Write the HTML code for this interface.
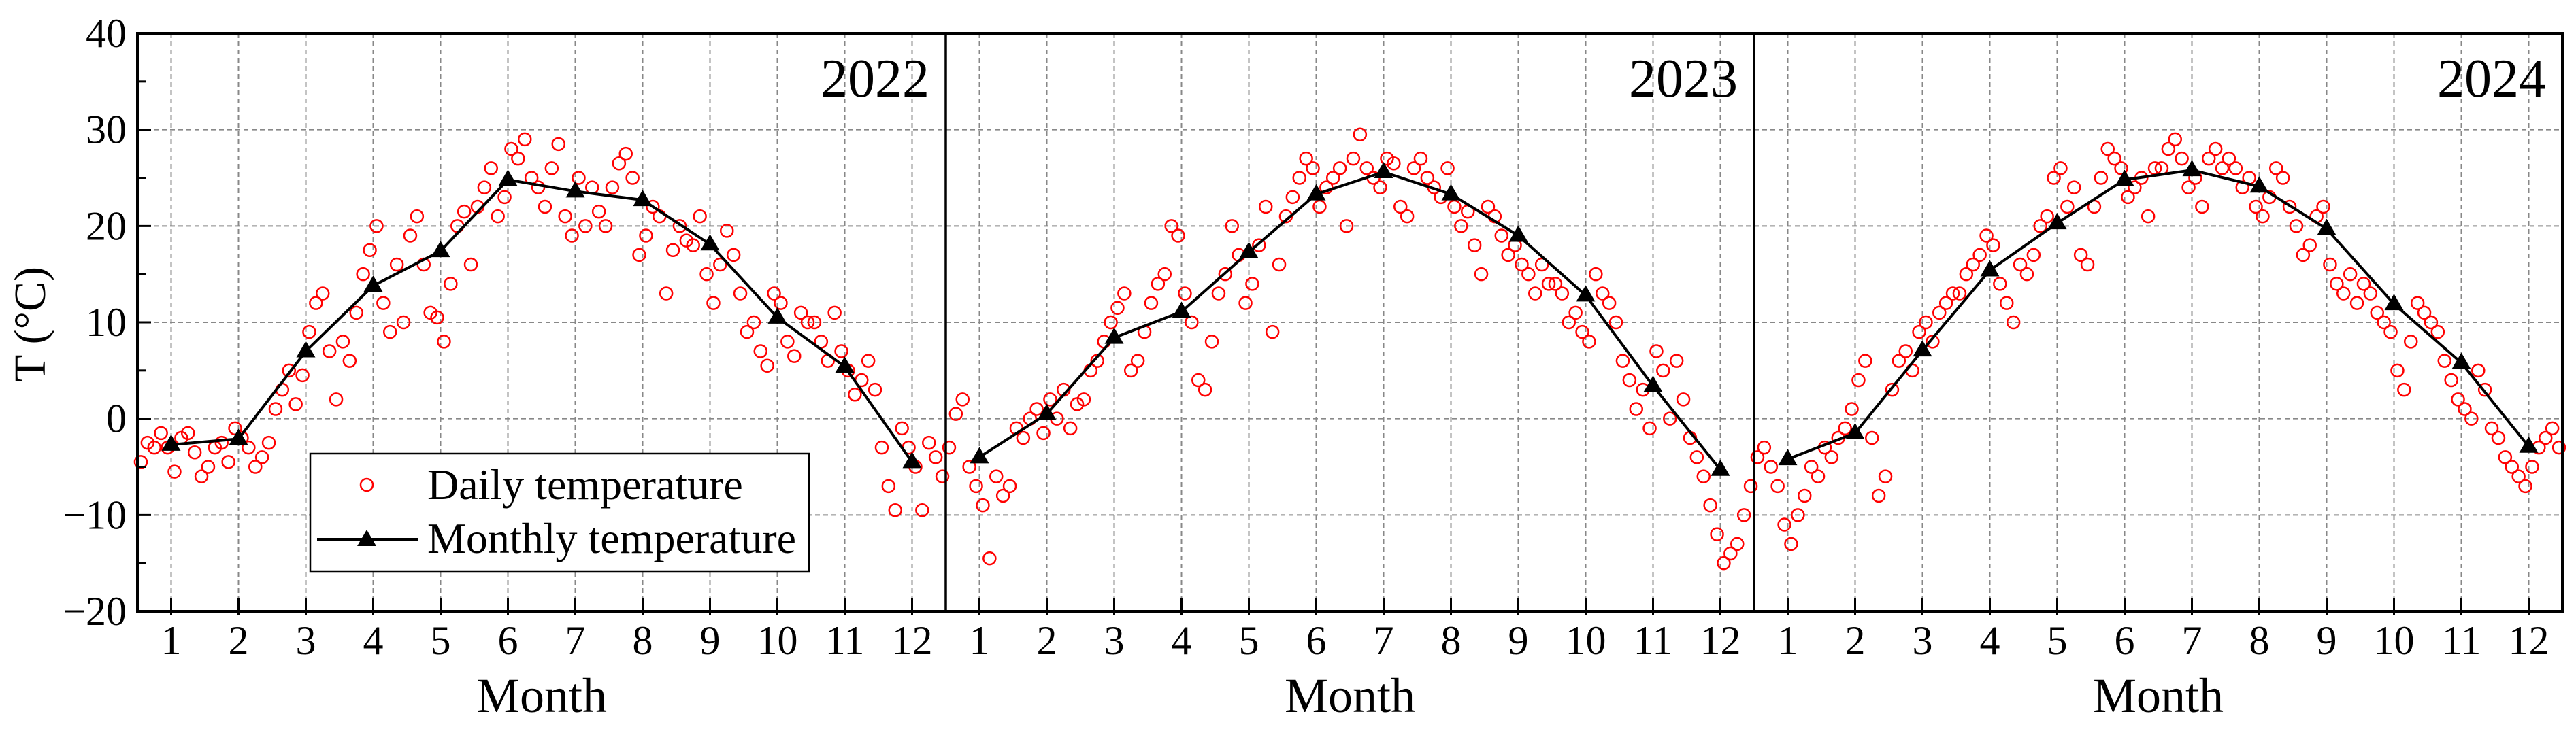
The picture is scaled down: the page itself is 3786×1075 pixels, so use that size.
<!DOCTYPE html>
<html><head><meta charset="utf-8"><style>
html,body{margin:0;padding:0;background:#fff}
svg, svg text{font-family:"Liberation Serif","DejaVu Serif","Times New Roman",serif}
</style></head><body>
<svg id="chart" width="3786" height="1070" viewBox="0 0 3786 1070" xmlns="http://www.w3.org/2000/svg" font-family="Liberation Serif, DejaVu Serif, serif">
<g id="grid"></g>
<g id="daily"></g>
<g id="monthly"></g>
<g id="axes"></g>
<g id="legend">
  <rect x="456" y="667" width="733" height="173" fill="#fff" stroke="#000" stroke-width="2.5"/>
  <circle cx="539" cy="713" r="9" fill="none" stroke="#f00" stroke-width="2.5"/>
  <text x="628" y="734" font-size="64" font-family="Liberation Serif, DejaVu Serif, serif">Daily temperature</text>
  <line x1="466" y1="793" x2="615" y2="793" stroke="#000" stroke-width="4"/>
  <polygon points="539,779 553,803 525,803" fill="#000"/>
  <text x="628" y="813" font-size="64" font-family="Liberation Serif, DejaVu Serif, serif">Monthly temperature</text>
</g>
<text transform="translate(66,477) rotate(-90)" text-anchor="middle" font-size="66" font-family="Liberation Serif, DejaVu Serif, serif">T (°C)</text>
</svg>
<script>
const years = ["2022","2023","2024"];
const months = [1,2,3,4,5,6,7,8,9,10,11,12];
const yTicks = [40,30,20,10,0,-10,-20];
const yTickLabels = ["40","30","20","10","0","\u221210","\u221220"];
const monthly2022 = [-2.7,-2.1,7.0,13.8,17.4,24.8,23.6,22.7,18.1,10.5,5.4,-4.5];
const monthly2023 = [-4.0,0.5,8.4,11.1,17.3,23.3,25.6,23.3,19.0,12.8,3.4,-5.3];
const monthly2024 = [-4.2,-1.5,7.1,15.4,20.3,24.8,25.8,24.1,19.7,11.9,5.8,-2.9];
const daily2022 = [
-4.5,-2.5,-3,-1.5,-3,-5.5,-2,-1.5,-3.5,-6,
-5,-3,-2.5,-4.5,-1,-2,-3,-5,-4,-2.5,
1,3,5,1.5,4.5,9,12,13,7,2,
8,6,11,15,17.5,20,12,9,16,10,
19,21,16,11,10.5,8,14,20,21.5,16,
22,24,26,21,23,28,27,29,25,24,
22,26,28.5,21,19,25,20,24,21.5,20,
24,26.5,27.5,25,17,19,22,21,13,17.5,
20,18.5,18,21,15,12,16,19.5,17,13,
9,10,7,5.5,13,12,8,6.5,11,10,
10,8,6,11,7,5,2.5,4,6,3,
-3,-7,-9.5,-1,-3,-5,-9.5,-2.5,-4,-6];
const daily2023 = [
-3,0.5,2,-5,-7,-9,-14.5,-6,-8,-7,
-1,-2,0,1,-1.5,2,0,3,-1,1.5,
2,5,6,8,10,11.5,13,5,6,9,
12,14,15,20,19,13,10,4,3,8,
13,15,20,17,12,14,18,22,9,16,
21,23,25,27,26,22,24,25,26,20,
27,29.5,26,25,24,27,26.5,22,21,26,
27,25,24,23,26,22,20,21.5,18,15,
22,21,19,17,18,16,15,13,16,14,
14,13,10,11,9,8,15,13,12,10,
6,4,1,3,-1,7,5,0,6,2,
-2,-4,-6,-9,-12,-15,-14,-13,-10,-7];
const daily2024 = [
-4,-3,-5,-7,-11,-13,-10,-8,-5,-6,
-3,-4,-2,-1,1,4,6,-2,-8,-6,
3,6,7,5,9,10,8,11,12,13,
13,15,16,17,19,18,14,12,10,16,
15,17,20,21,25,26,22,24,17,16,
22,25,28,27,26,23,24,25,21,26,
26,28,29,27,24,25,22,27,28,26,
27,26,24,25,22,21,23,26,25,22,
20,17,18,21,22,16,14,13,15,12,
14,13,11,10,9,5,3,8,12,11,
10,9,6,4,2,1,0,5,3,-1,
-2,-4,-5,-6,-7,-5,-3,-2,-1,-3];

const NS="http://www.w3.org/2000/svg";
const FF="Liberation Serif, DejaVu Serif, serif";
const X0=202, PW=1188, TOP=49, BOT=899;
const monthW = PW/12;
function xScale(p,m){return X0+p*PW+(m-0.5)*monthW;}
function yScale(v){return TOP+(40-v)*(BOT-TOP)/60;}
function mk(tag,attrs,parent){const e=document.createElementNS(NS,tag);for(const k in attrs)e.setAttribute(k,attrs[k]);parent.appendChild(e);return e;}
const grid=document.getElementById('grid'),axes=document.getElementById('axes'),dailyG=document.getElementById('daily'),monG=document.getElementById('monthly');
const dailyAll=[daily2022,daily2023,daily2024], monAll=[monthly2022,monthly2023,monthly2024];
const RIGHT=X0+3*PW;
yTicks.forEach((v,i)=>{
  if(v<40&&v>-20){
    const l=mk('line',{x1:X0,x2:RIGHT,y1:yScale(v),y2:yScale(v),stroke:'#888','stroke-width':2,'stroke-dasharray':'7,5'},grid);
    
    
  }
  const t=mk('text',{x:186,y:yScale(v)+20,'text-anchor':'end','font-size':60,'font-family':FF},axes);
  t.textContent=yTickLabels[i];
  
  
  const tk=mk('line',{x1:X0,x2:X0+20,y1:yScale(v),y2:yScale(v),stroke:'#000','stroke-width':3},axes);
  
  
  if(v>-20){
    const mt=mk('line',{x1:X0,x2:X0+12,y1:yScale(v-5),y2:yScale(v-5),stroke:'#000','stroke-width':3},axes);
    
    
  }
});
years.forEach((yr,p)=>{
  months.forEach(m=>{
    const x=xScale(p,m);
    const g=mk('line',{x1:x,x2:x,y1:TOP,y2:BOT,stroke:'#888','stroke-width':2,'stroke-dasharray':'7,5'},grid);
    
    
    const tk=mk('line',{x1:x,x2:x,y1:BOT-20,y2:BOT+6,stroke:'#000','stroke-width':3},axes);
    
    
    const t=mk('text',{x:x,y:962,'text-anchor':'middle','font-size':60,'font-family':FF},axes);
    t.textContent=String(m);
    
    
  });
  const d=dailyAll[p];
  d.forEach((v,i)=>{
    const m=Math.floor(i/10)+1, k=i%10;
    const x=xScale(p,m)-monthW/2+(k+0.5)*monthW/10;
    const c=mk('circle',{cx:x,cy:yScale(v),r:9,fill:'none',stroke:'#f00','stroke-width':2.5},dailyG);
    
    
  });
  const mv=monAll[p];
  const pts=mv.map((v,i)=>xScale(p,months[i])+','+yScale(v)).join(' ');
  const pl=mk('polyline',{points:pts,fill:'none',stroke:'#000','stroke-width':4},monG);
  
  
  mv.forEach((v,i)=>{
    const x=xScale(p,months[i]),y=yScale(v);
    const tr=mk('polygon',{points:`${x},${y-15} ${x+14},${y+9} ${x-14},${y+9}`,fill:'#000'},monG);
    
    
  });
  const yl=mk('text',{x:X0+(p+1)*PW-24,y:142,'text-anchor':'end','font-size':80,'font-family':FF},axes);
  yl.textContent=yr;
  
  
  const mt=mk('text',{x:X0+p*PW+PW/2,y:1047,'text-anchor':'middle','font-size':72,'font-family':FF},axes);
  mt.textContent='Month';
  
  
  if(p>0){
    const dv=mk('line',{x1:X0+p*PW,x2:X0+p*PW,y1:TOP,y2:BOT,stroke:'#000','stroke-width':3.5},axes);
    
    
  }
});
const fr=mk('rect',{x:X0,y:TOP,width:3*PW,height:BOT-TOP,fill:'none',stroke:'#000','stroke-width':4},axes);


document.getElementById('chart').appendChild(document.getElementById('legend'));
</script>
</body></html>
